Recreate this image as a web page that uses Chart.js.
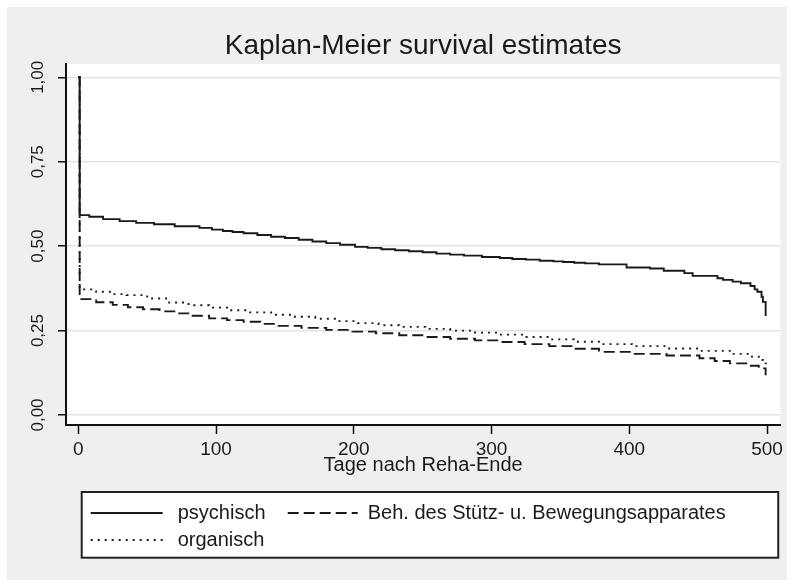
<!DOCTYPE html>
<html>
<head>
    <meta charset="UTF-8">
    <title>Kaplan-Meier survival estimates</title>
    <script src="https://cdn.jsdelivr.net/npm/chart.js"></script>
    <style>
        body { margin: 0; background: #fff; }
        #wrap { position: absolute; left: 7px; top: 7px; width: 780px; height: 573px; background: #efefef; }
    </style>
</head>
<body>
    <div id="wrap"><canvas id="km" width="780" height="573"></canvas></div>
    <script>
        // values
        const groupNames = ["psychisch", "Beh. des Stütz- u. Bewegungsapparates", "organisch"];

        const psychDays = [0, 1, 8, 18, 30, 42, 55, 70, 88, 97, 105, 112, 120, 130, 140, 150, 160, 170, 180, 190, 201, 210, 220, 230, 240, 250, 260, 270, 280, 293, 306, 315, 325, 335, 345, 352, 360, 368, 378, 398, 415, 425, 440, 446, 464, 468, 475, 481, 488, 491, 493, 496, 497, 499];
        const psychSurv = [1.0, 0.592, 0.587, 0.580, 0.574, 0.569, 0.565, 0.559, 0.554, 0.549, 0.545, 0.542, 0.538, 0.533, 0.528, 0.524, 0.519, 0.514, 0.509, 0.504, 0.498, 0.495, 0.491, 0.488, 0.485, 0.482, 0.478, 0.475, 0.472, 0.468, 0.465, 0.462, 0.460, 0.457, 0.455, 0.453, 0.451, 0.449, 0.446, 0.437, 0.434, 0.427, 0.420, 0.412, 0.405, 0.400, 0.395, 0.390, 0.382, 0.372, 0.365, 0.350, 0.335, 0.293];

        const bewDays = [0, 1, 13, 25, 36, 47, 59, 71, 83, 95, 108, 120, 132, 144, 162, 180, 199, 216, 233, 252, 270, 288, 306, 324, 342, 360, 378, 402, 427, 451, 462, 473, 487, 494, 499];
        const bewSurv = [1.0, 0.343, 0.334, 0.326, 0.319, 0.313, 0.307, 0.301, 0.294, 0.286, 0.281, 0.276, 0.270, 0.264, 0.258, 0.252, 0.247, 0.242, 0.236, 0.231, 0.226, 0.221, 0.216, 0.210, 0.204, 0.196, 0.187, 0.181, 0.176, 0.168, 0.160, 0.153, 0.146, 0.138, 0.118];

        const orgDays = [0, 1, 13, 25, 35, 50, 66, 80, 95, 110, 122, 140, 156, 172, 188, 203, 218, 233, 252, 270, 288, 306, 324, 342, 360, 378, 402, 427, 451, 475, 489, 494, 497, 499];
        const orgSurv = [1.0, 0.372, 0.365, 0.358, 0.355, 0.345, 0.333, 0.325, 0.318, 0.310, 0.304, 0.297, 0.291, 0.285, 0.278, 0.272, 0.266, 0.261, 0.255, 0.250, 0.244, 0.238, 0.231, 0.224, 0.217, 0.210, 0.204, 0.197, 0.190, 0.181, 0.173, 0.163, 0.154, 0.150];

        const xTicks = [0, 100, 200, 300, 400, 500];
        const yTicks = [0, 0.25, 0.5, 0.75, 1];
        const yTickLabels = ["0,00", "0,25", "0,50", "0,75", "1,00"];

        const ink = "#1a1a1a";
        const font = "Arial";

        function toPoints(days, surv) {
            return days.map((d, i) => ({ x: d, y: surv[i] }));
        }

        // white plot region on the grey graph background
        const plotBg = {
            id: "plotBg",
            beforeDraw(chart) {
                const { ctx, chartArea: a } = chart;
                ctx.save();
                ctx.fillStyle = "#fff";
                ctx.fillRect(a.left, a.top, a.right - a.left, a.bottom - a.top);
                ctx.restore();
            }
        };

        // y labels stand vertical, reading upwards
        const yLabels = {
            id: "yLabels",
            afterDraw(chart) {
                const ctx = chart.ctx, ys = chart.scales.y;
                ctx.save();
                ctx.font = "17px " + font;
                ctx.fillStyle = ink;
                ctx.textAlign = "center";
                ctx.textBaseline = "middle";
                ys.ticks.forEach((t, i) => {
                    ctx.save();
                    ctx.translate(ys.left + 31, ys.getPixelForValue(t.value));
                    ctx.rotate(-Math.PI / 2);
                    ctx.fillText(yTickLabels[i], 0, 0);
                    ctx.restore();
                });
                ctx.restore();
            }
        };

        // boxed legend below the axis title
        const boxLegend = {
            id: "boxLegend",
            afterDraw(chart) {
                const { ctx, chartArea: a } = chart;
                const x0 = a.left + 15.7, y0 = a.bottom + 67;
                const x1 = a.right - 2, y1 = a.bottom + 132.7;
                const slots = [
                    { dx: 9, dy: 21, len: 72, tx: 87 },
                    { dx: 206, dy: 21, len: 70, tx: 80 },
                    { dx: 9, dy: 48, len: 72, tx: 87 }
                ];
                ctx.save();
                ctx.fillStyle = "#fff";
                ctx.fillRect(x0, y0, x1 - x0, y1 - y0);
                ctx.strokeStyle = "#222";
                ctx.lineWidth = 2;
                ctx.strokeRect(x0, y0, x1 - x0, y1 - y0);
                ctx.font = "20px " + font;
                ctx.textBaseline = "middle";
                chart.data.datasets.forEach((ds, i) => {
                    const s = slots[i];
                    const sx = x0 + s.dx, sy = y0 + s.dy;
                    ctx.beginPath();
                    ctx.setLineDash(ds.borderDash || []);
                    ctx.strokeStyle = ds.borderColor;
                    ctx.lineWidth = ds.borderWidth;
                    ctx.moveTo(sx, sy);
                    ctx.lineTo(sx + s.len, sy);
                    ctx.stroke();
                    ctx.setLineDash([]);
                    ctx.fillStyle = ink;
                    ctx.fillText(ds.label, sx + s.tx, sy);
                });
                ctx.restore();
            }
        };

        new Chart(document.getElementById("km"), {
            type: "line",
            data: {
                datasets: [
                    {
                        label: groupNames[0],
                        data: toPoints(psychDays, psychSurv),
                        borderColor: ink,
                        borderWidth: 1.9,
                        stepped: true,
                        pointRadius: 0
                    },
                    {
                        label: groupNames[1],
                        data: toPoints(bewDays, bewSurv),
                        borderColor: ink,
                        borderWidth: 1.9,
                        borderDash: [11, 5],
                        stepped: true,
                        pointRadius: 0
                    },
                    {
                        label: groupNames[2],
                        data: toPoints(orgDays, orgSurv),
                        borderColor: ink,
                        borderWidth: 1.9,
                        borderDash: [2, 5],
                        stepped: true,
                        pointRadius: 0
                    }
                ]
            },
            options: {
                responsive: false,
                animation: false,
                layout: { padding: { top: 0, left: 0, right: 6, bottom: 105 } },
                plugins: {
                    legend: { display: false },
                    tooltip: { enabled: false },
                    title: {
                        display: true,
                        fullSize: false,
                        text: "Kaplan-Meier survival estimates",
                        color: ink,
                        font: { family: font, size: 28, weight: "normal" },
                        padding: { top: 22, bottom: 1.4 }
                    }
                },
                scales: {
                    x: {
                        type: "linear",
                        min: -8.92,
                        max: 509.6,
                        afterBuildTicks: s => { s.ticks = xTicks.map(v => ({ value: v })); },
                        afterFit: s => { s.height = 50; },
                        ticks: { color: ink, font: { family: font, size: 19 }, padding: 4, maxRotation: 0, autoSkip: false },
                        grid: { drawOnChartArea: false, tickColor: "#111", tickWidth: 1.5, tickLength: 9 },
                        border: { color: "#111", width: 2 },
                        title: {
                            display: true,
                            text: "Tage nach Reha-Ende",
                            color: ink,
                            font: { family: font, size: 20, lineHeight: 1 },
                            padding: 0
                        }
                    },
                    y: {
                        type: "linear",
                        min: -0.0296,
                        max: 1.0394,
                        afterBuildTicks: s => { s.ticks = yTicks.map(v => ({ value: v })); },
                        afterFit: s => { s.width = 59; },
                        ticks: { display: false },
                        grid: { color: "#e4e4e4", lineWidth: 1.5, tickColor: "#111", tickWidth: 1.5, tickLength: 8 },
                        border: { color: "#111", width: 2 }
                    }
                }
            },
            plugins: [plotBg, yLabels, boxLegend]
        });
    </script>
</body>
</html>
